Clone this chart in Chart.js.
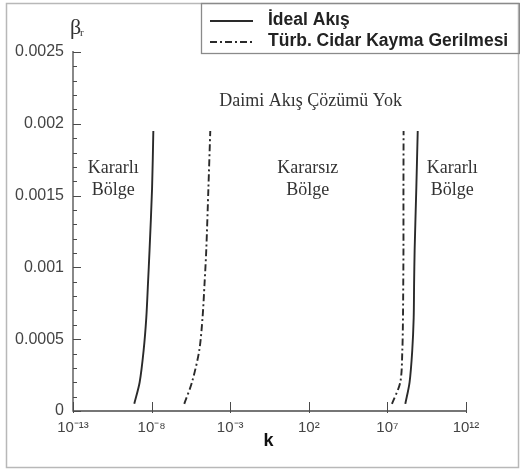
<!DOCTYPE html>
<html>
<head>
<meta charset="utf-8">
<script src="https://cdn.jsdelivr.net/npm/chart.js@4"></script>
<style>
  html, body { margin: 0; padding: 0; background: #fff; }
  #wrap { width: 520px; height: 472px; position: relative; }
</style>
</head>
<body>
<div id="wrap"><canvas id="c" width="520" height="472"></canvas></div>
<script>
// ---- data ----
const betaValues = [0.00005, 0.0002, 0.00042, 0.00065, 0.00089, 0.00112, 0.00155, 0.00195];
const idealLeftK  = [7.9e-10, 1.74e-9, 3.1e-9, 4.6e-9, 5.9e-9, 7.4e-9, 1.07e-8, 1.29e-8];
const idealRightK = [1.38e8, 2.57e8, 3.8e8, 4.7e8, 5.0e8, 5.4e8, 6.9e8, 8.5e8];
const turbLeftK   = [1.2e-6, 3.7e-6, 1.07e-5, 1.74e-5, 2.34e-5, 3.0e-5, 4.1e-5, 5.4e-5];
const turbRightK  = [1.95e7, 6.6e7, 8.9e7, 9.8e7, 1.02e8, 1.05e8, 1.05e8, 1.07e8];

const seriesNames = ['İdeal Akış', 'Türb. Cidar Kayma Gerilmesi'];
const xTickValues = [1e-13, 1e-8, 1e-3, 1e2, 1e7, 1e12];
const xTickLabels = ['10⁻¹³', '10⁻⁸', '10⁻³', '10²', '10⁷', '10¹²'];
const yTickValues = [0, 0.0005, 0.001, 0.0015, 0.002, 0.0025];
const yTickLabels = ['0', '0.0005', '0.001', '0.0015', '0.002', '0.0025'];
const annotations = [
  { text: ['Daimi Akış Çözümü Yok'], k: 1.3e2, b: 0.00216 },
  { text: ['Kararlı', 'Bölge'], k: 3.6e-11, b: 0.00169 },
  { text: ['Kararsız', 'Bölge'], k: 8.7e1, b: 0.00169 },
  { text: ['Kararlı', 'Bölge'], k: 1.35e11, b: 0.00169 }
];

function branchPoints(left, right) {
  const pts = left.map((k, i) => ({ x: k, y: betaValues[i] }));
  pts.push({ x: 1, y: null });
  right.forEach((k, i) => pts.push({ x: k, y: betaValues[i] }));
  return pts;
}

const AXIS = '#4a4a4a';

const framePlugin = {
  id: 'frame',
  beforeDraw(chart) {
    const ctx = chart.ctx;
    ctx.save();
    ctx.fillStyle = '#fff';
    ctx.fillRect(0, 0, chart.width, chart.height);
    ctx.strokeStyle = '#b8b8b8';
    ctx.lineWidth = 1.5;
    ctx.strokeRect(6.5, 3.5, 512, 464);
    ctx.restore();
  },
  afterDraw(chart) {
    const ctx = chart.ctx;
    const xs = chart.scales.x, ys = chart.scales.y;
    const left = xs.left, right = xs.right;
    const top = ys.getPixelForValue(0.0025), bottom = ys.getPixelForValue(0);
    ctx.save();
    ctx.strokeStyle = AXIS;
    ctx.lineWidth = 1.3;
    ctx.beginPath();
    ctx.moveTo(left, top - 1); ctx.lineTo(left, bottom);
    ctx.lineTo(right, bottom);
    ctx.stroke();
    // y ticks (inward)
    ctx.lineWidth = 1;
    for (let i = 0; i <= 25; i++) {
      const y = Math.round(ys.getPixelForValue(i * 0.0001)) + 0.5;
      const len = (i % 5 === 0) ? 8 : 4;
      ctx.beginPath(); ctx.moveTo(left, y); ctx.lineTo(left + len, y); ctx.stroke();
    }
    // x ticks
    xTickValues.forEach(v => {
      const x = Math.round(xs.getPixelForValue(v)) + 0.5;
      ctx.beginPath(); ctx.moveTo(x, bottom - 9); ctx.lineTo(x, bottom + 2); ctx.stroke();
    });
    // annotations
    ctx.fillStyle = '#333';
    ctx.textAlign = 'center';
    ctx.textBaseline = 'middle';
    annotations.forEach(a => {
      const px = xs.getPixelForValue(a.k), py = ys.getPixelForValue(a.b);
      ctx.font = '18px "Liberation Serif", "Times New Roman", serif';
      a.text.forEach((t, j) => ctx.fillText(t, px, py + j * 22));
    });
    // axis titles
    ctx.font = 'bold 18px "Liberation Sans", Arial, sans-serif';
    ctx.fillStyle = '#111';
    ctx.fillText('k', 268.5, 441);
    ctx.font = '22px "Liberation Serif", serif';
    ctx.fillStyle = '#333';
    ctx.textAlign = 'left';
    ctx.fillText('β', 70, 28);
    ctx.font = '11px "Liberation Serif", serif';
    ctx.fillText('r', 80, 33);
    // legend
    ctx.strokeStyle = '#8a8a8a';
    ctx.lineWidth = 1.3;
    ctx.strokeRect(201.5, 3.5, 318, 50);
    chart.data.datasets.forEach((ds, i) => {
      const y = 21 + i * 21;
      ctx.save();
      ctx.strokeStyle = ds.borderColor;
      ctx.lineWidth = ds.borderWidth;
      ctx.setLineDash(ds.borderDash || []);
      ctx.beginPath(); ctx.moveTo(210, y); ctx.lineTo(253, y); ctx.stroke();
      ctx.restore();
      ctx.fillStyle = '#222';
      ctx.font = 'bold 17.5px "Liberation Sans", Arial, sans-serif';
      ctx.textAlign = 'left';
      ctx.fillText(ds.label, 268, y - 1);
    });
    ctx.restore();
  }
};

new Chart(document.getElementById('c'), {
  type: 'scatter',
  data: {
    datasets: [
      {
        label: seriesNames[0],
        data: branchPoints(idealLeftK, idealRightK),
        showLine: true, borderColor: '#2a2a2a', borderWidth: 1.9,
        pointRadius: 0, tension: 0.3, spanGaps: false
      },
      {
        label: seriesNames[1],
        data: branchPoints(turbLeftK, turbRightK),
        showLine: true, borderColor: '#2a2a2a', borderWidth: 1.9,
        borderDash: [7, 3, 2, 3],
        pointRadius: 0, tension: 0.3, spanGaps: false
      }
    ]
  },
  options: {
    responsive: false,
    animation: false,
    layout: { padding: { left: 0, top: 52, right: 54, bottom: 0 } },
    plugins: { legend: { display: false }, tooltip: { enabled: false } },
    scales: {
      x: {
        type: 'logarithmic', min: 1e-13, max: 1e12,
        border: { display: false },
        grid: { display: false, drawTicks: false },
        afterBuildTicks(scale) { scale.ticks = xTickValues.map(v => ({ value: v })); },
        afterFit(scale) { scale.height = 61; },
        ticks: {
          autoSkip: false, maxRotation: 0, padding: 8,
          color: '#444', font: { family: '"Liberation Sans", Arial, sans-serif', size: 15 },
          callback: (v, i) => xTickLabels[i]
        }
      },
      y: {
        min: 0, max: 0.0025,
        border: { display: false },
        grid: { display: false, drawTicks: false },
        afterBuildTicks(scale) { scale.ticks = yTickValues.map(v => ({ value: v })); },
        afterFit(scale) { scale.width = 73; },
        ticks: {
          padding: 9, color: '#444',
          font: { family: '"Liberation Sans", Arial, sans-serif', size: 16 },
          callback: (v, i) => yTickLabels[i]
        }
      }
    }
  },
  plugins: [framePlugin]
});
</script>
</body>
</html>
